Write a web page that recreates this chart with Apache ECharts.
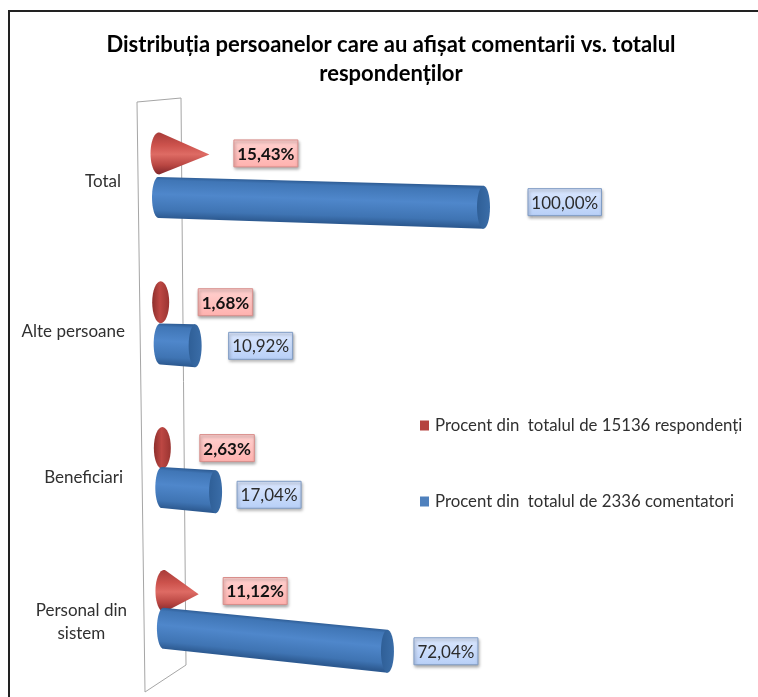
<!DOCTYPE html>
<html>
<head>
<meta charset="utf-8">
<title>Distributia persoanelor</title>
<style type="text/css">
	html, body { margin: 0; padding: 0; background: #fff; }
	#chart { width: 758px; height: 697px; }
</style>
</head>
<body>
<div id="chart"></div>
<script src="https://cdn.jsdelivr.net/npm/echarts@6/dist/echarts.min.js"></script>
<script type="text/javascript">
const TITLE = 'Distribuția persoanelor care au afișat comentarii vs. totalul\nrespondenților';
const CATEGORIES = ['Total', 'Alte persoane', 'Beneficiari', 'Personal din\nsistem'];
const RESPONDENT_NAME = 'Procent din  totalul de 15136 respondenți';
const COMMENTER_NAME = 'Procent din  totalul de 2336 comentatori';
const RESPONDENT_PCT = [15.43, 1.68, 2.63, 11.12];
const COMMENTER_PCT = [100, 10.92, 17.04, 72.04];

// the labels were moved by hand in the original, so they need their own nudges
const CAT_LABEL_DY = [6, 11, 13, 12];
const CAT_LABEL_PAD_RIGHT = [6, 2, 4, 0];
const BLUE_LABEL_GAP = [38, 27, 15, 20];
const BLUE_LABEL_DY = [-5, 0, 3, 0];
const FONT = 'Lato';

const X0 = 158;

function pct(v) {
	return v.toFixed(2).replace('.', ',') + '%';
}

// fake 3d: the chart plane leans away from the viewer
function bandY(y) {
	return y + 0.00007 * (y - 175) * (609 - y);
}
function project(x, y) {
	let slope = 0.03 + 0.000158 * (y - 197);
	let shift = 0.0114 * (y - 153);
	let scale = 1 - 0.0001 * (y - 197);
	return [X0 + shift + (x - X0) * scale, y + slope * (x - X0), slope];
}

function halfArc(cx, cy, rx, ry, from, to) {
	let pts = [];
	for (let i = 0; i <= 24; i++) {
		let a = from + (to - from) * i / 24;
		pts.push([cx + rx * Math.cos(a), cy + ry * Math.sin(a)]);
	}
	return pts;
}

function labelBox(cx, cy, text, fills, border, bold) {
	let w = 9.5 * text.length + 7, h = 27;
	return [{
		type: 'rect',
		shape: { x: cx, y: cy - h / 2, width: w, height: h },
		style: {
			fill: new echarts.graphic.LinearGradient(0, 0, 0, 1, [
				{ offset: 0, color: fills[0] }, { offset: 1, color: fills[1] }
			]),
			stroke: border, lineWidth: 1,
			shadowBlur: 3, shadowOffsetX: 1, shadowOffsetY: 2, shadowColor: 'rgba(0,0,0,0.35)'
		}
	}, {
		type: 'text',
		style: {
			x: cx + w / 2, y: cy + 1, text: text, align: 'center', verticalAlign: 'middle',
			font: (bold ? 'bold ' : '') + '17px ' + FONT, fill: bold ? '#111111' : '#2b2b2b'
		}
	}];
}

function bandHalf(yc) {
	return 22 - 0.0076 * (yc - 175);
}

function renderCone(params, api) {
	let i = api.value(1);
	let base = api.coord([0, i]);
	let tip = api.coord([api.value(0), i]);
	let yc = bandY(base[1]);
	let y = yc - bandHalf(yc);
	let b = project(base[0] + 1, y);
	let t = project(tip[0] + 1, y);
	let rx = 8.5, ry = 21;
	let d = t[0] - b[0];
	let shape, fill, rightEdge;
	if (d <= rx) {
		// cone points straight at the viewer, only the round part shows
		shape = { type: 'ellipse', shape: { cx: b[0], cy: b[1], rx: rx, ry: ry } };
		fill = new echarts.graphic.LinearGradient(0, 0, 1, 0, [
			{ offset: 0, color: '#8e2f2c' }, { offset: 0.45, color: '#bd4743' }, { offset: 1, color: '#9a3431' }
		]);
		rightEdge = b[0] + rx + 29;
	} else {
		let tx = rx * rx / d;
		let ty = ry * Math.sqrt(1 - rx * rx / (d * d));
		let a0 = Math.atan2(ty / ry, tx / rx);
		let pts = halfArc(b[0], b[1], rx, ry, a0, 2 * Math.PI - a0).concat([t]);
		shape = { type: 'polygon', shape: { points: pts } };
		fill = new echarts.graphic.LinearGradient(0, 0, 0, 1, [
			{ offset: 0, color: '#a83c39' }, { offset: 0.3, color: '#cc524c' }, { offset: 0.52, color: '#de6b64' },
			{ offset: 0.78, color: '#b94642' }, { offset: 1, color: '#80262a' }
		]);
		rightEdge = t[0] + 24.5;
	}
	shape.style = { fill: fill };
	return {
		type: 'group',
		children: [shape].concat(labelBox(rightEdge, b[1], pct(api.value(0)),
			['#ffd2d0', '#ffb1ae'], '#d88e8b', true))
	};
}

function renderCylinder(params, api) {
	let i = api.value(1);
	let base = api.coord([0, i]);
	let end = api.coord([api.value(0), i]);
	let yc = bandY(base[1]);
	let y = yc + bandHalf(yc);
	let a = project(base[0], y);
	let b = project(end[0], y);
	let s = a[2];
	let r1 = 20.5, r2 = 21.5, rx = 6.5;
	let pts = [[a[0], a[1] - r1], [b[0], b[1] - r2], [b[0], b[1] + r2]]
		.concat(halfArc(a[0], a[1], rx, r1, Math.PI / 2, Math.PI * 1.5));
	let k = 2 * r1 / (1 + s * s);
	let body = new echarts.graphic.LinearGradient(
		a[0], a[1] - r1, a[0] - s * k, a[1] - r1 + k, [
			{ offset: 0, color: '#305f98' }, { offset: 0.08, color: '#4076b6' }, { offset: 0.42, color: '#4f87cb' },
			{ offset: 0.82, color: '#3f74b3' }, { offset: 1, color: '#2d5a91' }
		], true);
	return {
		type: 'group',
		children: [{
			type: 'polygon', shape: { points: pts }, style: { fill: body }
		}, {
			type: 'ellipse',
			shape: { cx: b[0], cy: b[1], rx: rx, ry: r2 },
			style: {
				fill: new echarts.graphic.LinearGradient(0, 0, 1, 0, [
					{ offset: 0, color: '#2f5f97' }, { offset: 1, color: '#3a6da8' }
				])
			}
		}].concat(labelBox(b[0] + rx + BLUE_LABEL_GAP[i], b[1] + BLUE_LABEL_DY[i], pct(api.value(0)),
			['#dce8ff', '#b7cff7'], '#7f9bc4', false))
	};
}

var myChart = echarts.init(document.getElementById('chart'));

// an empty first line of the wanted height pushes a label down from its band centre
var catRich = {
	a: { fontFamily: FONT, fontSize: 17, lineHeight: 23, color: '#303030' },
	b: { fontFamily: FONT, fontSize: 17, lineHeight: 23, color: '#303030', align: 'center' }
};
CAT_LABEL_DY.forEach((dy, i) => {
	catRich['sp' + i] = { fontSize: 1, lineHeight: dy * 2 };
});

var option = {
	animation: false,
	backgroundColor: '#ffffff',
	textStyle: { fontFamily: FONT },
	title: {
		text: TITLE,
		left: 386,
		top: 25,
		textAlign: 'center',
		textStyle: { fontFamily: FONT, fontWeight: 'bold', fontSize: 22, lineHeight: 29, color: '#000000' }
	},
	legend: {
		orient: 'vertical',
		left: 415,
		top: 412,
		itemWidth: 9,
		itemHeight: 10,
		itemGap: 59,
		icon: 'rect',
		data: [RESPONDENT_NAME, COMMENTER_NAME],
		textStyle: { fontFamily: FONT, fontSize: 16.8, color: '#303030', padding: [0, 0, 0, 1] }
	},
	grid: { left: X0, top: 103, width: 325, height: 579 },
	xAxis: { type: 'value', min: 0, max: 100, show: false },
	yAxis: {
		type: 'category',
		inverse: true,
		data: CATEGORIES.map((c, i) => ({
			value: c,
			textStyle: { padding: [0, CAT_LABEL_PAD_RIGHT[i], 0, 0] }
		})),
		axisLine: { show: false },
		axisTick: { show: false },
		axisLabel: {
			margin: 31,
			align: 'right',
			rich: catRich,
			formatter: function (value, index) {
				let lines = value.split('\n');
				let txt = '{sp' + index + '| }\n{a|' + lines[0] + '}';
				if (lines[1]) txt += '\n{b|' + lines[1] + '}';
				return txt;
			}
		}
	},
	graphic: {
		elements: [
			// back wall of the 3d chart
			{ type: 'polygon', z: 0, shape: { points: [[137, 102], [181, 98], [186, 665], [145, 692]] },
				style: { fill: 'none', stroke: '#a6a6a6', lineWidth: 1 } },
			// frame, the screenshot is cut off at the right and the bottom
			{ type: 'polyline', z: 0, shape: { points: [[9, 697], [9, 11], [758, 11]] },
				style: { fill: 'none', stroke: '#222222', lineWidth: 2 } }
		]
	},
	series: [
		{
			name: RESPONDENT_NAME,
			type: 'custom',
			coordinateSystem: 'cartesian2d',
			itemStyle: { color: '#b5423f' },
			encode: { x: 0, y: 1 },
			data: RESPONDENT_PCT.map((v, i) => [v, i]),
			renderItem: renderCone
		},
		{
			name: COMMENTER_NAME,
			type: 'custom',
			coordinateSystem: 'cartesian2d',
			itemStyle: { color: '#4f81bd' },
			encode: { x: 0, y: 1 },
			data: COMMENTER_PCT.map((v, i) => [v, i]),
			renderItem: renderCylinder
		}
	]
};

myChart.setOption(option);
</script>
</body>
</html>
